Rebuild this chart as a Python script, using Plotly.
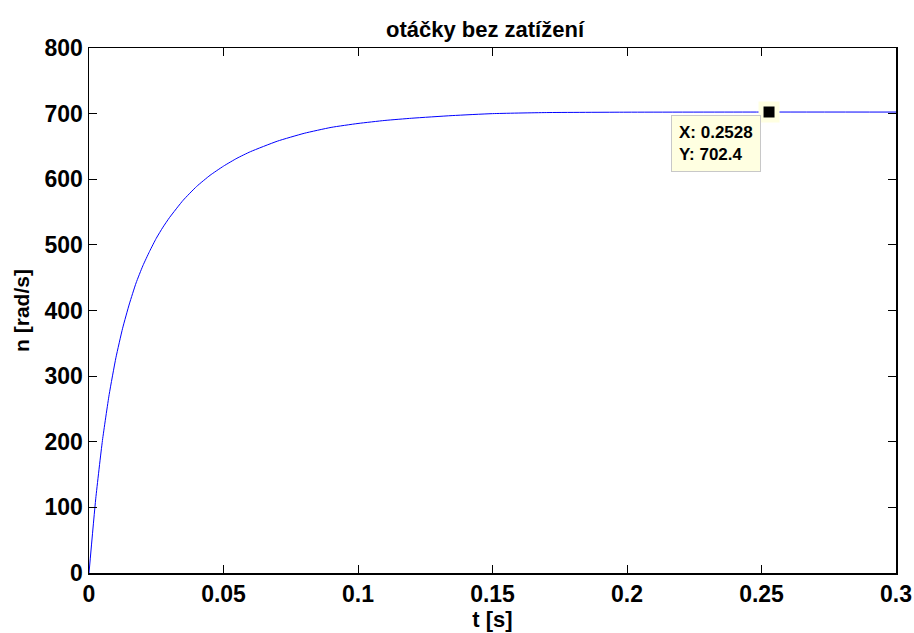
import plotly.graph_objects as go

# time [s]
t = [0, 0.0025, 0.005, 0.0075, 0.01, 0.0125, 0.015, 0.0175, 0.02, 0.0225,
     0.025, 0.0275, 0.03, 0.035, 0.04, 0.045, 0.05, 0.055, 0.06, 0.07,
     0.08, 0.09, 0.1, 0.11, 0.12, 0.135, 0.15, 0.17, 0.2, 0.25, 0.3]
# speed n [rad/s]
n = [0, 113, 202, 272, 328, 373, 410, 442, 468, 490,
     510, 527, 542, 568, 589, 606, 620, 632, 642, 658,
     670, 679, 685, 689.6, 693, 697, 700, 701.6, 702.2, 702.4, 702.4]

tip_x = [0.2528]
tip_y = [702.4]

x_ticks = [0, 0.05, 0.1, 0.15, 0.2, 0.25, 0.3]
x_labels = ["0", "0.05", "0.1", "0.15", "0.2", "0.25", "0.3"]
y_ticks = [0, 100, 200, 300, 400, 500, 600, 700, 800]

font_family = "Liberation Sans, Arial, sans-serif"

fig = go.Figure()
fig.add_trace(go.Scatter(x=t, y=n, mode="lines",
                         line=dict(color="#0000FF", width=1, shape="spline", smoothing=0.5),
                         hoverinfo="skip", showlegend=False))
fig.add_trace(go.Scatter(x=tip_x, y=tip_y, mode="markers",
                         marker=dict(symbol="square", size=16, color="black",
                                     line=dict(color="#FFFFE1", width=5)),
                         hoverinfo="skip", showlegend=False))

fig.add_annotation(x=0.2164, y=698, xref="x", yref="y", xanchor="left", yanchor="top",
                   text="<b>X: 0.2528<br>Y: 702.4</b>", showarrow=False, align="left",
                   bgcolor="#FFFFE1", bordercolor="#C8C8C8", borderwidth=1, borderpad=7,
                   font=dict(family=font_family, size=17, color="black"))

axis_common = dict(showgrid=False, zeroline=False, showline=True, linecolor="black",
                   linewidth=1.5, mirror="ticks", ticks="inside", ticklen=8,
                   tickcolor="black", tickwidth=1,
                   tickfont=dict(family=font_family, size=23, color="black"))

fig.update_xaxes(range=[0, 0.3], tickvals=x_ticks, ticktext=[f"<b>{s}</b>" for s in x_labels],
                 title=dict(text="<b>t [s]</b>", font=dict(family=font_family, size=22, color="black"),
                            standoff=0),
                 **axis_common)
fig.update_yaxes(range=[0, 800], tickvals=y_ticks, ticktext=[f"<b>{v}</b>" for v in y_ticks],
                 title=dict(text="<b>n [rad/s]</b>", font=dict(family=font_family, size=21, color="black"),
                            standoff=9),
                 **axis_common)

fig.update_layout(
    width=914, height=633,
    margin=dict(l=89, r=18, t=48, b=60, autoexpand=False),
    paper_bgcolor="white", plot_bgcolor="white",
    title=dict(text="<b>otáčky bez zatížení</b>", x=485 / 914, xanchor="center",
               y=1 - 29 / 633, yanchor="middle",
               font=dict(family=font_family, size=22, color="black")),
)

fig.write_html(
    "out.html",
    config={"displayModeBar": False, "staticPlot": True},
    post_script=(
        "document.documentElement.style.margin='0';"
        "document.body.style.margin='0';"
        "document.documentElement.style.overflow='hidden';"
        "document.body.style.overflow='hidden';"
    ),
)
